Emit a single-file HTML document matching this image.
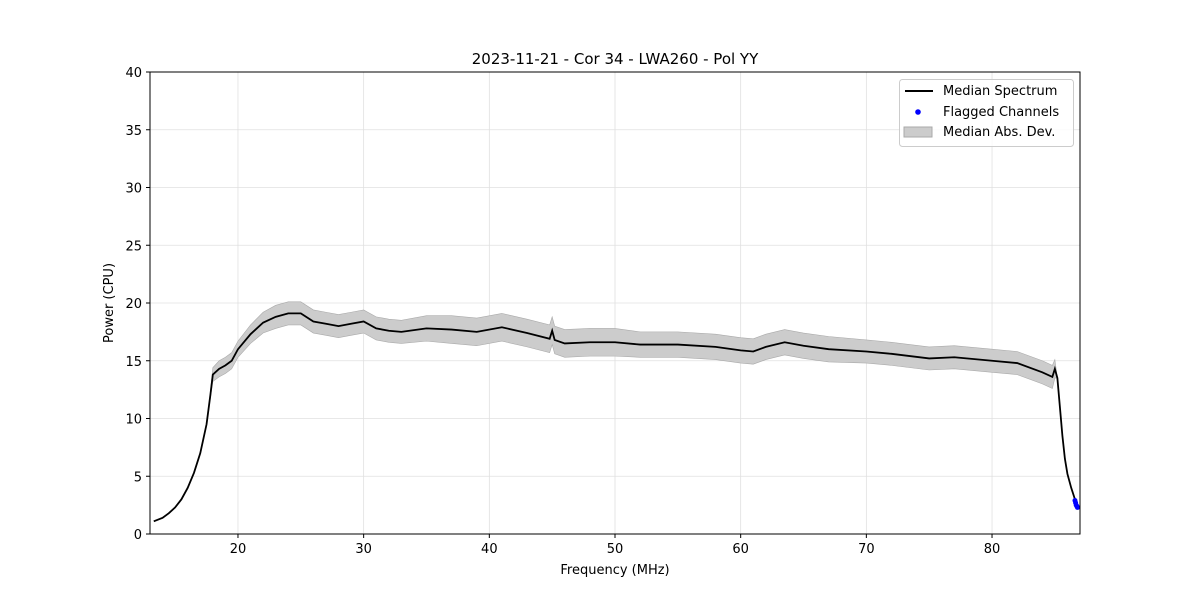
<!DOCTYPE html>
<html><head><meta charset="utf-8"><style>
body{margin:0;background:#fff;}
svg text{font-family:"DejaVu Sans","Liberation Sans",sans-serif;}
</style></head><body>
<svg id="chart" width="1200" height="600" xmlns="http://www.w3.org/2000/svg"></svg>
<script>
const freqs = [13.3,14,14.5,15,15.5,16,16.5,17,17.5,17.8,18,18.5,19,19.5,20,21,22,23,24,25,26,27,28,29,30,31,32,33,35,37,39,41,43,44.8,45,45.2,46,48,50,52,55,58,60,61,62,63.5,65,67,70,72,75,77,80,82,84,84.8,85,85.2,85.4,85.6,85.8,86,86.3,86.6];
const median = [1.1,1.4,1.8,2.3,3.0,4.0,5.3,7.0,9.5,12,13.8,14.3,14.6,15,16,17.3,18.3,18.8,19.1,19.1,18.4,18.2,18,18.2,18.4,17.8,17.6,17.5,17.8,17.7,17.5,17.9,17.4,16.9,17.6,16.8,16.5,16.6,16.6,16.4,16.4,16.2,15.9,15.8,16.2,16.6,16.3,16,15.8,15.6,15.2,15.3,15.0,14.8,14.0,13.6,14.3,13.5,11,8.5,6.5,5.2,4,3];
const madDev = [0,0,0,0,0,0,0,0,0,0.3,0.6,0.7,0.7,0.7,0.7,0.8,0.9,1,1,1,1,1,1,1,1,1,1,1,1.1,1.2,1.2,1.2,1.2,1.2,1.2,1.2,1.2,1.2,1.2,1.1,1.1,1.1,1.1,1.1,1.1,1.1,1.1,1.1,1.0,1.0,1.0,1.0,1.0,1.0,1.0,1.0,0.8,0,0,0,0,0,0,0];
const flaggedFreqs = [86.6,86.65,86.7,86.75,86.8];
const flaggedVals = [2.9,2.7,2.5,2.4,2.3];
const xTicks = [20,30,40,50,60,70,80];
const yTicks = [0,5,10,15,20,25,30,35,40];

const L=150,R=1080,T=72,B=534, xmin=13.0, xmax=87.0, ymin=0, ymax=40;
const X=v=>L+(v-xmin)/(xmax-xmin)*(R-L);
const Y=v=>B-(v-ymin)/(ymax-ymin)*(B-T);
const svg=document.getElementById('chart');
const NS='http://www.w3.org/2000/svg';
function mk(tag,attrs,parent){const e=document.createElementNS(NS,tag);for(const k in attrs)e.setAttribute(k,attrs[k]);(parent||svg).appendChild(e);return e;}

xTicks.forEach(t=>{const g=mk('line',{x1:X(t),x2:X(t),y1:T,y2:B,stroke:'#e0e0e0','stroke-width':0.8});

});
yTicks.forEach(t=>{const g=mk('line',{x1:L,x2:R,y1:Y(t),y2:Y(t),stroke:'#e0e0e0','stroke-width':0.8});

});

let up=[],dn=[];
freqs.forEach((f,i)=>{if(madDev[i]>0||(i>0&&madDev[i-1]>0)){up.push(X(f)+','+Y(median[i]+madDev[i]));dn.unshift(X(f)+','+Y(median[i]-madDev[i]));}});
const band=mk('polygon',{points:up.concat(dn).join(' '),fill:'#cccccc',stroke:'#aaaaaa','stroke-width':0.6});



const ln=mk('polyline',{points:freqs.map((f,i)=>X(f)+','+Y(median[i])).join(' '),fill:'none',stroke:'#000','stroke-width':1.8});



flaggedFreqs.forEach((f,i)=>{const c=mk('circle',{cx:X(f),cy:Y(flaggedVals[i]),r:2.5,fill:'#0000ff'});

});

const fr=mk('rect',{x:L,y:T,width:R-L,height:B-T,fill:'none',stroke:'#000','stroke-width':1});



xTicks.forEach(t=>{mk('line',{x1:X(t),x2:X(t),y1:B,y2:B+4,stroke:'#000'});
const tx=mk('text',{x:X(t),y:B+19,'text-anchor':'middle','font-size':13});tx.textContent=t;

});
yTicks.forEach(t=>{mk('line',{x1:L-4,x2:L,y1:Y(t),y2:Y(t),stroke:'#000'});
const tx=mk('text',{x:L-8,y:Y(t)+5,'text-anchor':'end','font-size':13});tx.textContent=t;

});
</script>
<svg width="1200" height="600" style="position:absolute;left:0;top:0" xmlns="http://www.w3.org/2000/svg">
<text x="615" y="64" text-anchor="middle" font-size="15">2023-11-21 - Cor 34 - LWA260 - Pol YY</text>
<text x="615" y="574" text-anchor="middle" font-size="13">Frequency (MHz)</text>
<text transform="translate(113,303) rotate(-90)" text-anchor="middle" font-size="13">Power (CPU)</text>
<g>
<rect x="899.5" y="79.5" width="174" height="67" rx="3" fill="#fff" fill-opacity="0.8" stroke="#cccccc"/>
<line x1="905" x2="933" y1="91" y2="91" stroke="#000" stroke-width="2"/>
<text x="943" y="95" font-size="13">Median Spectrum</text>
<circle cx="918" cy="112" r="2.8" fill="#0000ff"/>
<text x="943" y="116" font-size="13">Flagged Channels</text>
<rect x="904" y="127" width="28" height="10" fill="#cccccc" stroke="#aaaaaa"/>
<text x="943" y="136" font-size="13">Median Abs. Dev.</text>
</g>
</svg>
</body></html>
